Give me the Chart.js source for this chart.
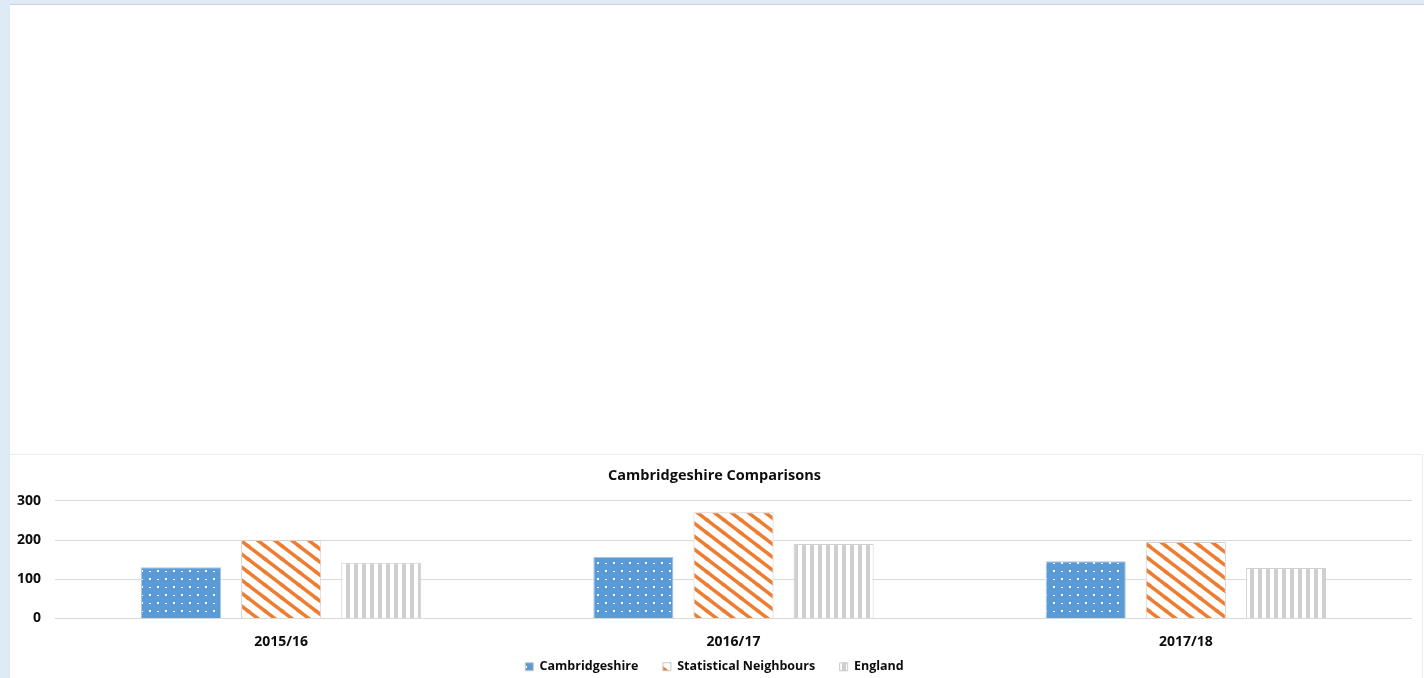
<!DOCTYPE html>
<html>
<head>
<meta charset="utf-8">
<script src="https://cdn.jsdelivr.net/npm/chart.js@4.4.0/dist/chart.umd.min.js"></script>
<style>
    body { margin: 0; background: #deebf7; width: 1424px; height: 678px; overflow: hidden; }
    #page { position: absolute; left: 10px; top: 4px; width: 1414px; height: 674px; background: #fff; border-top: 1px solid #d0d0d0; box-sizing: border-box; }
    /* canvas runs a little past the bottom edge, the window crops it */
    #chartBox { position: absolute; left: 0; top: 449px; width: 1413px; height: 229px; border-top: 1px solid #ececec; border-right: 1px solid #ececec; box-sizing: border-box; }
</style>
</head>
<body>
<div id="page">
    <div id="chartBox"><canvas id="comparisonChart"></canvas></div>
</div>
<script>
// Data
const years = ['2015/16', '2016/17', '2017/18'];
const cambridgeshire = [131, 157, 146];
const statNeighbours = [200, 271, 195];
const england = [142, 190, 129];
const yTicks = [0, 100, 200, 300];

// Pattern fills to mimic the Excel hatches
function dotPattern() {
    const c = document.createElement('canvas');
    c.width = 16; c.height = 16;
    const g = c.getContext('2d');
    g.fillStyle = '#5b9bd5';
    g.fillRect(0, 0, 16, 16);
    g.fillStyle = '#ffffff';
    g.fillRect(3, 3, 2, 2);
    g.fillRect(11, 4, 2, 1);
    g.fillRect(3, 12, 2, 1);
    g.fillRect(11, 11, 2, 2);
    return g.createPattern(c, 'repeat');
}

function diagPattern() {
    const w = 17, h = 13;
    const c = document.createElement('canvas');
    c.width = w; c.height = h;
    const g = c.getContext('2d');
    g.fillStyle = '#ffffff';
    g.fillRect(0, 0, w, h);
    g.strokeStyle = '#ed7d31';
    g.lineWidth = 3.5;
    [[0, 0], [w, 0], [-w, 0], [0, h], [0, -h]].forEach(o => {
        g.beginPath();
        g.moveTo(-w + o[0], -h + o[1]);
        g.lineTo(2 * w + o[0], 2 * h + o[1]);
        g.stroke();
    });
    return g.createPattern(c, 'repeat');
}

function stripePattern() {
    const c = document.createElement('canvas');
    c.width = 8; c.height = 8;
    const g = c.getContext('2d');
    g.fillStyle = '#ffffff';
    g.fillRect(0, 0, 8, 8);
    g.fillStyle = '#cfcfcf';
    g.fillRect(0, 0, 4, 8);
    return g.createPattern(c, 'repeat');
}

const font = "'Open Sans', 'Liberation Sans', sans-serif";

new Chart(document.getElementById('comparisonChart'), {
    type: 'bar',
    data: {
        labels: years,
        datasets: [
            {
                label: 'Cambridgeshire',
                data: cambridgeshire,
                backgroundColor: dotPattern(),
                borderColor: '#a9c4e4',
                borderWidth: 1
            },
            {
                label: 'Statistical Neighbours',
                data: statNeighbours,
                backgroundColor: diagPattern(),
                borderColor: '#d0d0d0',
                borderWidth: 1
            },
            {
                label: 'England',
                data: england,
                backgroundColor: stripePattern(),
                borderColor: '#d0d0d0',
                borderWidth: 1
            }
        ]
    },
    options: {
        responsive: true,
        maintainAspectRatio: false,
        animation: false,
        datasets: {
            bar: { barPercentage: 0.8, categoryPercentage: 0.664 }
        },
        layout: { padding: { left: 7, right: 10, top: 0, bottom: 0 } },
        plugins: {
            title: {
                display: true,
                text: 'Cambridgeshire Comparisons',
                color: '#0d0d0d',
                font: { family: font, size: 14.5, weight: 'bold' },
                padding: { top: 12, bottom: 16.5 }
            },
            legend: {
                position: 'bottom',
                labels: {
                    color: '#0d0d0d',
                    boxWidth: 8,
                    boxHeight: 8,
                    padding: 12,
                    font: { family: font, size: 12.5, weight: 'bold' },
                    // widen the gap after the first two items like the original
                    generateLabels: chart => {
                        const items = Chart.defaults.plugins.legend.labels.generateLabels(chart);
                        items.forEach((it, i) => {
                            it.strokeStyle = '#c8c8c8';
                            it.lineWidth = 1;
                            if (i < items.length - 1) it.text = it.text + '\u2002\u2002';
                        });
                        return items;
                    }
                }
            },
            tooltip: { enabled: false }
        },
        scales: {
            x: {
                grid: { display: false, drawTicks: false },
                border: { display: false },
                afterFit: axis => { axis.height = 30; },
                ticks: { color: '#0d0d0d', font: { family: font, size: 14, weight: 'bold' }, padding: 15.6 }
            },
            y: {
                min: 0,
                max: 300,
                afterBuildTicks: axis => { axis.ticks = yTicks.map(v => ({ value: v })); },
                afterFit: axis => { axis.width = 38; },
                grid: { color: '#d9d9d9', lineWidth: 1, drawTicks: false },
                border: { display: false },
                ticks: { color: '#0d0d0d', font: { family: font, size: 14, weight: 'bold' }, padding: 14 }
            }
        }
    }
});
</script>
</body>
</html>
